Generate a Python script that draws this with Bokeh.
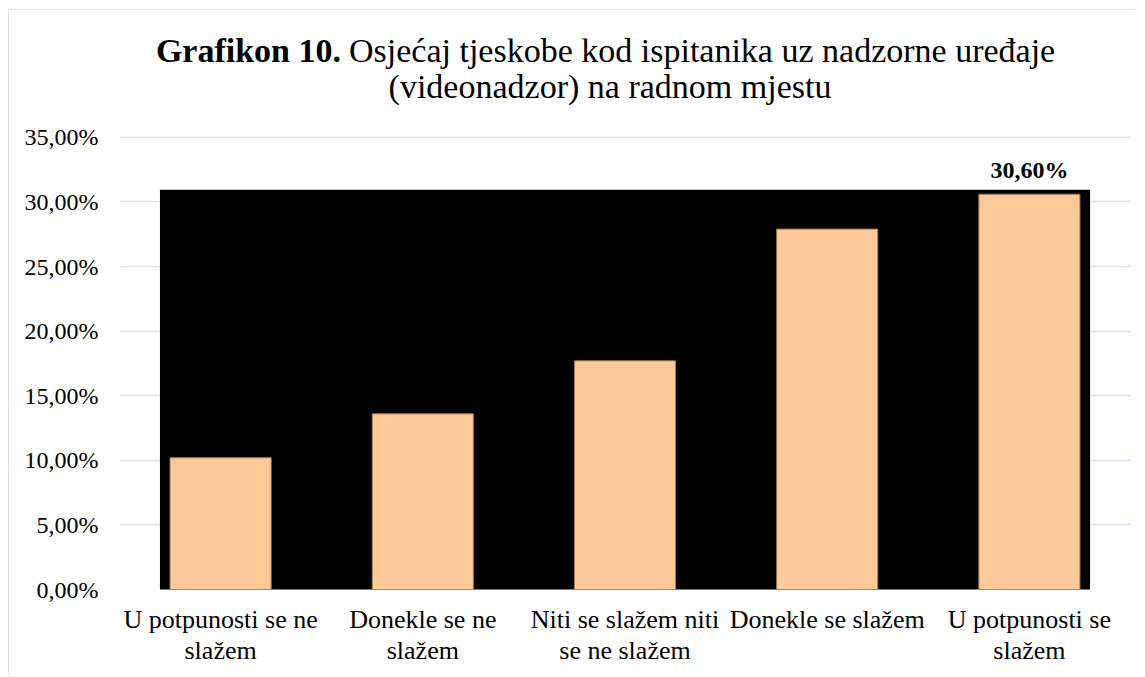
from bokeh.plotting import figure
from bokeh.models import FactorRange, Range1d, FixedTicker, Label, ColumnDataSource
from bokeh.embed import file_html
from bokeh.resources import INLINE
from bokeh.core.properties import value

# ---- data ----
categories = ["U potpunosti se ne\nslažem", "Donekle se ne\nslažem",
              "Niti se slažem niti\nse ne slažem", "Donekle se slažem",
              "U potpunosti se\nslažem"]
values = [10.2, 13.6, 17.7, 27.9, 30.6]
value_labels = ["", "", "", "", "30,60%"]
y_ticks = [0, 5, 10, 15, 20, 25, 30, 35]
y_tick_labels = ["0,00%", "5,00%", "10,00%", "15,00%", "20,00%", "25,00%", "30,00%", "35,00%"]
title_bold = "Grafikon 10."
title_rest = "Osjećaj tjeskobe kod ispitanika uz nadzorne uređaje"
title_line2 = "(videonadzor) na radnom mjestu"

FONT = "Liberation Serif"
GRID = "#D9E1F2"

# frame covers the title area too (axis ticks stop at 35 %)
p = figure(width=1127, height=665, output_backend="svg", toolbar_location=None,
           x_range=FactorRange(*categories), y_range=Range1d(0, 44.67),
           min_border_left=110, min_border_right=6, min_border_top=2, min_border_bottom=86)
p.styles = {"margin-left": "8px", "margin-top": "9px",
            "border-left": "1.5px solid " + GRID, "border-top": "1.5px solid " + GRID}
p.outline_line_color = None
p.background_fill_color = "white"
p.border_fill_color = "white"

# black plot-area panel
p.quad(left=0.2, right=4.8, bottom=-0.08, top=30.95, fill_color="black", line_color=None)

src = ColumnDataSource(dict(cat=categories, val=values, lab=value_labels))
p.vbar(x="cat", top="val", width=0.5, source=src, fill_color="#FFCA98",
       line_color="#9C7A55", line_width=1)

lab_src = ColumnDataSource(dict(cat=[c for c, l in zip(categories, value_labels) if l],
                                val=[v for v, l in zip(values, value_labels) if l],
                                lab=[l for l in value_labels if l]))
p.text(x="cat", y="val", text="lab", source=lab_src, text_align="center",
       text_baseline="alphabetic", y_offset=-24, text_font=value(FONT),
       text_font_style="bold", text_font_size="24px", text_color="black")

# axes
p.xgrid.grid_line_color = None
p.ygrid.grid_line_color = GRID
p.ygrid.grid_line_width = 1.5
p.ygrid.ticker = FixedTicker(ticks=y_ticks)
p.yaxis.ticker = FixedTicker(ticks=y_ticks)
p.yaxis.major_label_overrides = {t: l for t, l in zip(y_ticks, y_tick_labels)}
for ax in (p.xaxis, p.yaxis):
    ax.axis_line_color = None
    ax.major_tick_line_color = None
    ax.minor_tick_line_color = None
    ax.major_tick_out = 0
    ax.major_label_text_font = FONT
    ax.major_label_text_color = "black"
p.yaxis.major_label_text_font_size = "24px"
p.xaxis.major_label_text_font_size = "26px"
p.yaxis.major_label_standoff = 21
p.xaxis.major_label_standoff = 15
p.xaxis.major_label_text_line_height = 1.1

# title (2.5 = centre of the middle category in factor-range coordinates)
TX = 2.5
p.add_layout(Label(x=TX, y=41.76, x_offset=-284, text=title_bold,
                   text_align="right", text_baseline="alphabetic", text_font=FONT,
                   text_font_style="bold", text_font_size="34px", text_color="black"))
p.add_layout(Label(x=TX, y=41.76, x_offset=-276, text=title_rest,
                   text_align="left", text_baseline="alphabetic", text_font=FONT,
                   text_font_size="34px", text_color="black"))
p.add_layout(Label(x=TX, y=38.96, x_offset=-15, text=title_line2,
                   text_align="center", text_baseline="alphabetic", text_font=FONT,
                   text_font_size="34px", text_color="black"))

open("out.html", "w").write(file_html(p, INLINE))
